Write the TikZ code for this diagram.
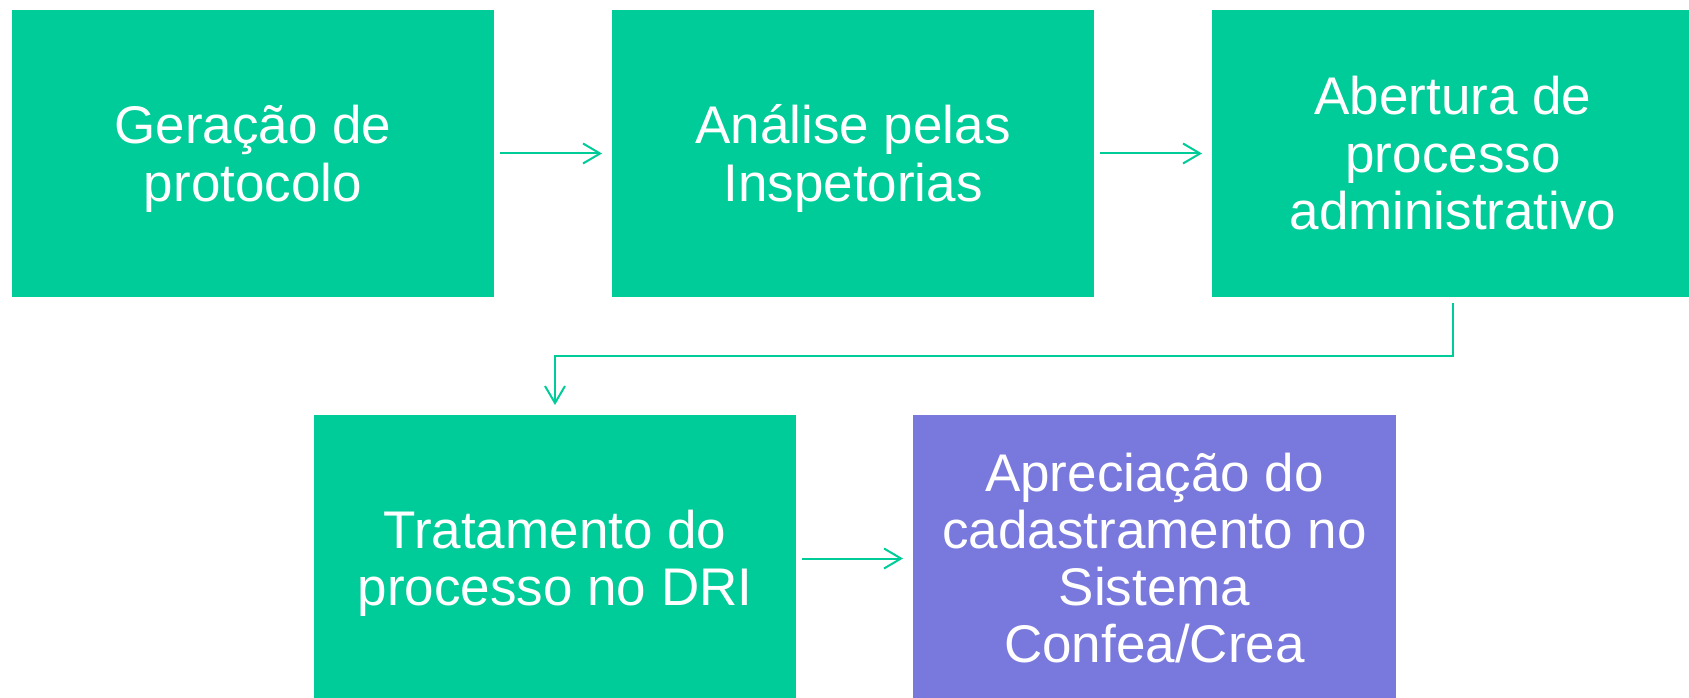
\documentclass[tikz,border=0pt]{standalone}
\usepackage{fontspec}
\setmainfont{Liberation Sans}
\usetikzlibrary{arrows.meta}
\definecolor{gr}{HTML}{00CC99}
\definecolor{pu}{HTML}{7979DD}
\begin{document}
\begin{tikzpicture}[x=1pt,y=-1pt,
  box/.style={fill=gr, draw=none, minimum width=482pt, minimum height=287pt, inner sep=0pt, outer sep=0pt, anchor=north west},
  txt/.style={text=white, font=\fontsize{53}{57}\selectfont, anchor=base, inner sep=0pt},
  conn/.style={draw=gr, line width=2pt, -{Straight Barb[length=17pt,width=20pt,line width=2pt]}}]
\useasboundingbox (0,0) rectangle (1689,698);
\node[box] (b1) at (12,10) {};
\node[box] (b2) at (612,10) {};
\node[box] (b3) at (1212,10) {};
\node[box] (b4) at (314,415) {};
\node[box,fill=pu,minimum width=483pt] (b5) at (913,415) {};
\node[txt] (t1a) at (253,144) {Geração de};
\node[txt] (t1b) at (253,201) {protocolo};
\node[txt] (t2a) at (853,144) {Análise pelas};
\node[txt] (t2b) at (853,201) {Inspetorias};
\node[txt] (t3a) at (1453,115) {Abertura de};
\node[txt] (t3b) at (1453,172) {processo};
\node[txt] (t3c) at (1453,229) {administrativo};
\node[txt] (t4a) at (555,548) {Tratamento do};
\node[txt] (t4b) at (555,605) {processo no DRI};
\node[txt] (t5a) at (1154.5,491) {Apreciação do};
\node[txt] (t5b) at (1154.5,548) {cadastramento no};
\node[txt] (t5c) at (1154.5,605) {Sistema};
\node[txt] (t5d) at (1154.5,662) {Confea/Crea};
\draw[conn] ([xshift=6pt]b1.east) -- ([xshift=-10pt]b2.west);
\draw[conn] ([xshift=6pt]b2.east) -- ([xshift=-10pt]b3.west);
\draw[conn] ([yshift=-6pt]b3.south) -- ++(0,53) -| ([yshift=10pt]b4.north);
\draw[conn] ([xshift=6pt]b4.east) -- ([xshift=-10pt]b5.west);
\end{tikzpicture}
\end{document}
